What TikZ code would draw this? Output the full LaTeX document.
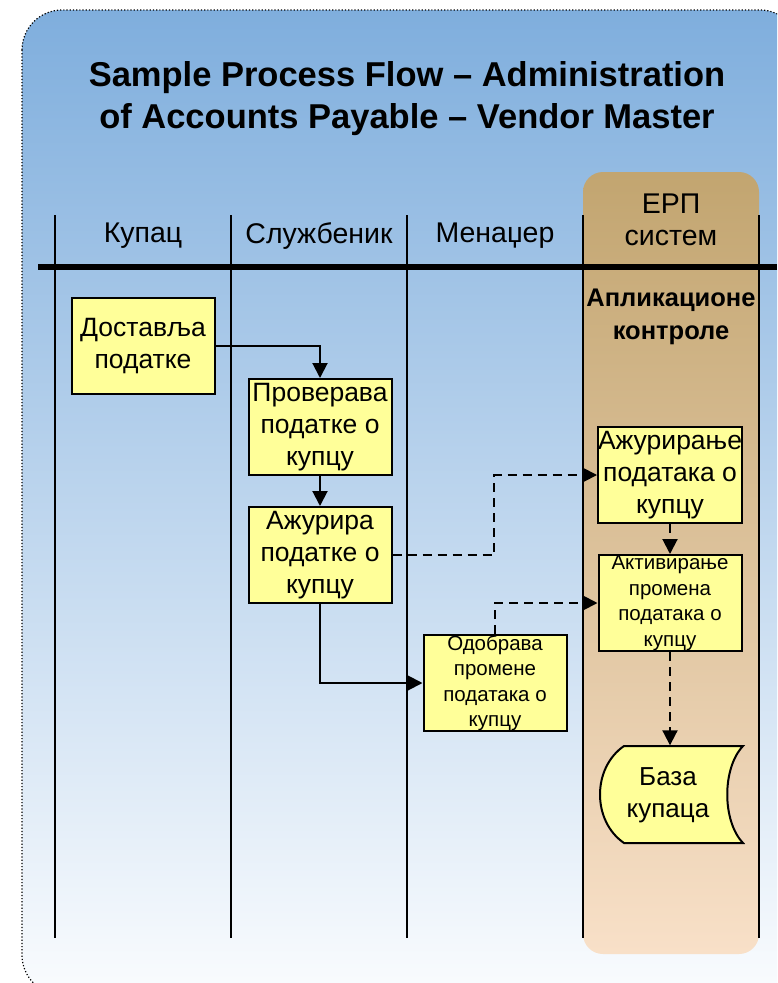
\documentclass[tikz,border=0pt]{standalone}
\usepackage{fontspec}
\setmainfont{Liberation Sans}
\usetikzlibrary{arrows.meta,calc}
\definecolor{boxy}{HTML}{FFFF99}
\definecolor{bgtop}{HTML}{7FAEDD}
\definecolor{bgmid}{HTML}{A4C4E6}
\definecolor{bgbot}{HTML}{FAFCFE}
\definecolor{erptop}{HTML}{C2A570}
\definecolor{erpbot}{HTML}{F8E0C8}
\tikzset{
  procbox/.style={draw=black, fill=boxy, line width=2pt, minimum width=143pt, minimum height=96pt, align=center, inner sep=0pt, font=\fontsize{26.5}{32}\selectfont},
  smallbox/.style={procbox, font=\fontsize{20.5}{25.5}\selectfont},
  lane/.style={line width=2pt},
  head/.style={align=center, font=\fontsize{28.5}{32}\selectfont},
  flow/.style={line width=2pt, -{Triangle[width=15pt,length=15pt]}},
  dflow/.style={flow, dash pattern=on 9pt off 6pt},
}
\begin{document}
\begin{tikzpicture}[x=1pt,y=-1pt]
\useasboundingbox (0,0) rectangle (777,983);
\begin{scope}
\clip (0,0) rectangle (777,983);
\shade[top color=bgtop, middle color=bgmid, bottom color=bgbot, rounded corners=40pt] (22,10) rectangle (800,995);
\draw[dotted, line width=1.2pt, rounded corners=40pt] (22,10) rectangle (800,995);
\end{scope}
% title
\node[align=center, font=\bfseries\fontsize{34.5}{42}\selectfont] (title) at (407,99) {Sample Process Flow – Administration\\of Accounts Payable – Vendor Master};
% ERP column
\shade[top color=erptop, bottom color=erpbot, rounded corners=20pt] (583,172) rectangle (759,954);
% lanes
\foreach \x in {55,231,407,583,759} \draw[lane] (\x,215) -- (\x,938);
\draw[line width=6pt] (38,267) -- (777,267);
% headers
\node[head] (h1) at (143,236) {Купац};
\node[head] (h2) at (319,236) {Службеник};
\node[head] (h3) at (495,236) {Менаџер};
\node[head] (h4) at (671,220) {ЕРП\\систем};
\node[align=center, font=\bfseries\fontsize{25.5}{33}\selectfont] (apc) at (671,317) {Апликационе\\контроле};
% boxes
\node[procbox] (n1) at (143,346) {Доставља\\податке};
\node[procbox] (n2) at (320,427) {Проверава\\податке о\\купцу};
\node[procbox] (n3) at (320,555) {Ажурира\\податке о\\купцу};
\node[smallbox] (n4) at (495,683) {\raisebox{-3pt}{\parbox{143pt}{\centering Одобрава\\промене\\података о\\купцу}}};
\node[procbox] (n5) at (670,475) {Ажурирање\\података о\\купцу};
\node[smallbox] (n6) at (670,603) {\raisebox{-3pt}{\parbox{143pt}{\centering Активирање\\промена\\података о\\купцу}}};
% stored data
\node[minimum width=144pt, minimum height=97pt, inner sep=0pt] (db) at (670,794) {};
\draw[line width=2pt, fill=boxy] (624,746) -- (743,746) .. controls (722,768) and (722,821) .. (743,843) -- (624,843) .. controls (592,821) and (592,768) .. (624,746) -- cycle;
\node[align=center, font=\fontsize{26}{32}\selectfont] (dbt) at (668,795) {База\\купаца};
% connectors
\coordinate (j1) at (494,0);
\draw[flow] (n1.east) -| (n2.north);
\draw[flow] (n2.south) -- (n3.north);
\draw[flow] (n3.south) |- (n4.west);
\draw[dflow] (n3.east) -- (n3.east -| j1) |- (n5.west);
\draw[dflow] (n4.north) |- (n6.west);
\draw[dflow] (n5.south) -- (n6.north);
\draw[dflow] (n6.south) -- (db.north);
\end{tikzpicture}
\end{document}
